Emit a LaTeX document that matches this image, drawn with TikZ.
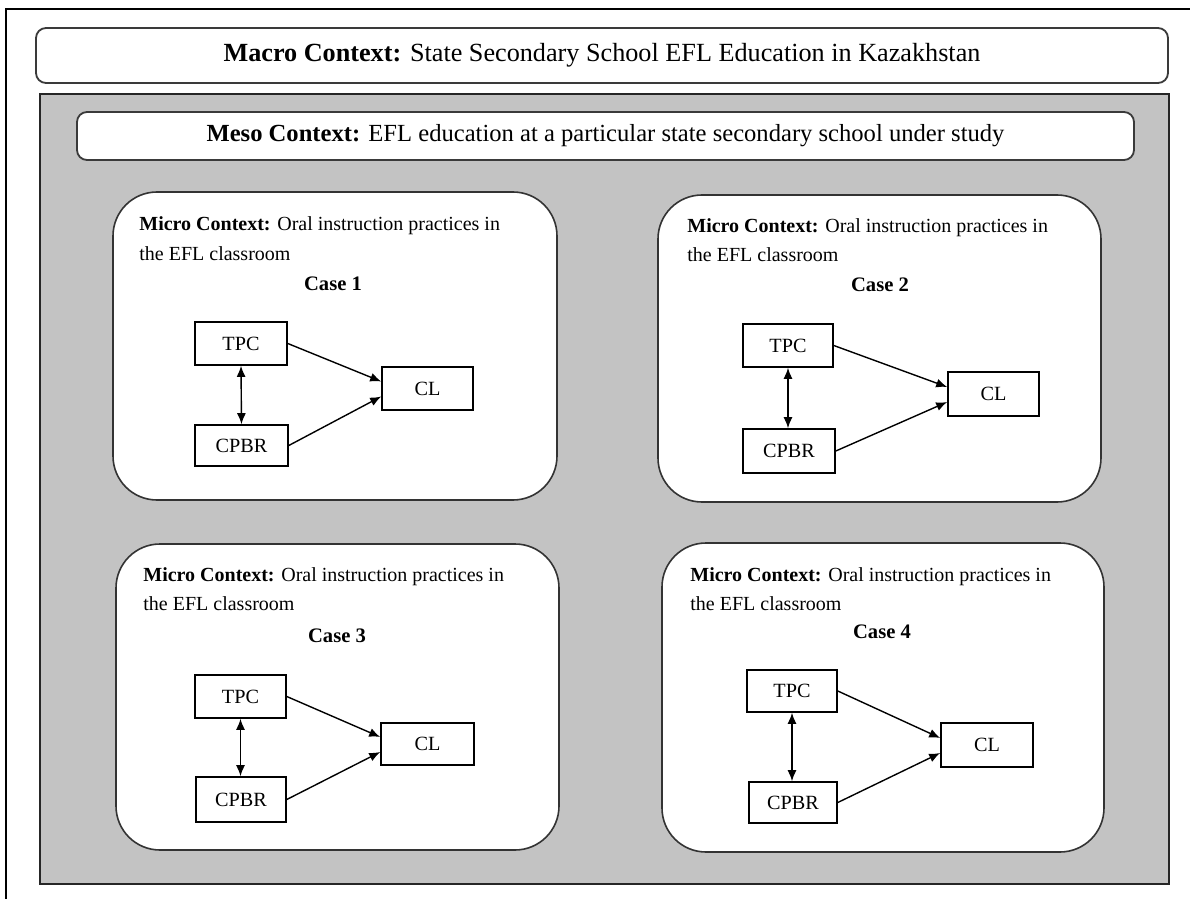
\documentclass[tikz,border=0pt]{standalone}
\usepackage{fontspec}
\setmainfont{Liberation Serif}
\usetikzlibrary{arrows.meta}
\definecolor{panelgrey}{HTML}{C3C3C3}
\definecolor{edgegrey}{HTML}{3A3A3A}
\tikzset{
  frameline/.style={draw=black, line width=0.7pt},
  topbox/.style={draw=edgegrey, line width=0.9pt, rounded corners=5pt, fill=white, inner sep=0pt},
  microbox/.style={draw=black!80, line width=0.8pt, rounded corners=22pt, fill=white, inner sep=0pt},
  varbox/.style={draw=black, line width=0.8pt, fill=white, inner sep=0pt, font=\fontsize{10.1}{11}\selectfont},
  microtext/.style={anchor=base west, inner sep=0pt, align=left, font=\fontsize{10}{14.5}\selectfont},
  casetext/.style={anchor=base, inner sep=0pt, font=\fontsize{10.3}{11}\selectfont\bfseries},
  arr/.style={line width=0.7pt, -{Latex[length=5.5pt,width=4.5pt]}},
  darr/.style={line width=0.7pt, {Latex[length=5.5pt,width=4.5pt]}-{Latex[length=5.5pt,width=4.5pt]}}
}
\begin{document}
\begin{tikzpicture}[x=0.5pt,y=-0.5pt]
\useasboundingbox (0,0) rectangle (1190,899);
% outer page frame
\coordinate (ftr) at (1190,9);
\coordinate (ftl) at (6,9);
\coordinate (fbl) at (6,899);
\draw[frameline] (ftr) -- (ftl) -- (fbl);
% macro
\node[topbox, minimum width=566pt, minimum height=27.5pt, font=\fontsize{13.1}{15}\selectfont] (macro) at (602,55.5)
  {\textbf{Macro Context:} State Secondary School EFL Education in Kazakhstan};
% grey panel
\node[draw=black!85, line width=0.9pt, fill=panelgrey, minimum width=564.5pt, minimum height=395pt, inner sep=0pt] (panel) at (604.5,489) {};
% meso
\node[topbox, minimum width=528.5pt, minimum height=24pt, font=\fontsize{12.3}{14}\selectfont] (meso) at (605.5,136)
  {\textbf{Meso Context:} EFL education at a particular state secondary school under study};

% ---------- Case 1
\node[microbox, minimum width=222pt, minimum height=154pt] (m1) at (335,346) {};
\node[microtext] (mt1) at (139,260) {\textbf{Micro Context:} Oral instruction practices in\\the EFL classroom};
\node[casetext] (cs1) at (333,290) {Case 1};
\node[varbox, minimum width=46pt, minimum height=21.5pt] (t1) at (241,343.5) {TPC};
\node[varbox, minimum width=45.5pt, minimum height=21.5pt] (c1) at (427.5,388.5) {CL};
\node[varbox, minimum width=46.5pt, minimum height=20.5pt] (p1) at (241.5,445.5) {CPBR};
\draw[arr] (t1.east) -- ([yshift=3.5pt]c1.west);
\draw[arr] (p1.east) -- ([yshift=-4pt]c1.west);
\draw[darr] (t1.south) -- (p1.north);

% ---------- Case 2
\node[microbox, minimum width=221.5pt, minimum height=153.5pt] (m2) at (879.5,348.5) {};
\node[microtext] (mt2) at (687,262) {\textbf{Micro Context:} Oral instruction practices in\\the EFL classroom};
\node[casetext] (cs2) at (880,292) {Case 2};
\node[varbox, minimum width=45pt, minimum height=21.5pt] (t2) at (788,345.5) {TPC};
\node[varbox, minimum width=45.5pt, minimum height=22pt] (c2) at (993.5,394) {CL};
\node[varbox, minimum width=46pt, minimum height=22pt] (p2) at (789,451) {CPBR};
\draw[arr] (t2.east) -- ([yshift=3.5pt]c2.west);
\draw[arr] (p2.east) -- ([yshift=-4pt]c2.west);
\draw[darr] (t2.south) -- (t2.south |- p2.north);

% ---------- Case 3
\node[microbox, minimum width=221.5pt, minimum height=153pt] (m3) at (337.5,697) {};
\node[microtext] (mt3) at (143,610) {\textbf{Micro Context:} Oral instruction practices in\\the EFL classroom};
\node[casetext] (cs3) at (337,642) {Case 3};
\node[varbox, minimum width=45.5pt, minimum height=21.5pt] (t3) at (240.5,696.5) {TPC};
\node[varbox, minimum width=46.5pt, minimum height=21pt] (c3) at (427.5,744) {CL};
\node[varbox, minimum width=45pt, minimum height=22.5pt] (p3) at (241,799.5) {CPBR};
\draw[arr] (t3.east) -- ([yshift=3.5pt]c3.west);
\draw[arr] (p3.east) -- ([yshift=-4pt]c3.west);
\draw[darr] (t3.south) -- (t3.south |- p3.north);

% ---------- Case 4
\node[microbox, minimum width=221pt, minimum height=154.5pt] (m4) at (883,697.5) {};
\node[microtext] (mt4) at (690,610) {\textbf{Micro Context:} Oral instruction practices in\\the EFL classroom};
\node[casetext] (cs4) at (882,638) {Case 4};
\node[varbox, minimum width=45pt, minimum height=21pt] (t4) at (792,691) {TPC};
\node[varbox, minimum width=46pt, minimum height=22pt] (c4) at (987,745) {CL};
\node[varbox, minimum width=44pt, minimum height=20.5pt] (p4) at (793,802.5) {CPBR};
\draw[arr] (t4.east) -- ([yshift=3.5pt]c4.west);
\draw[arr] (p4.east) -- ([yshift=-4pt]c4.west);
\draw[darr] (t4.south) -- (t4.south |- p4.north);
\end{tikzpicture}
\end{document}
